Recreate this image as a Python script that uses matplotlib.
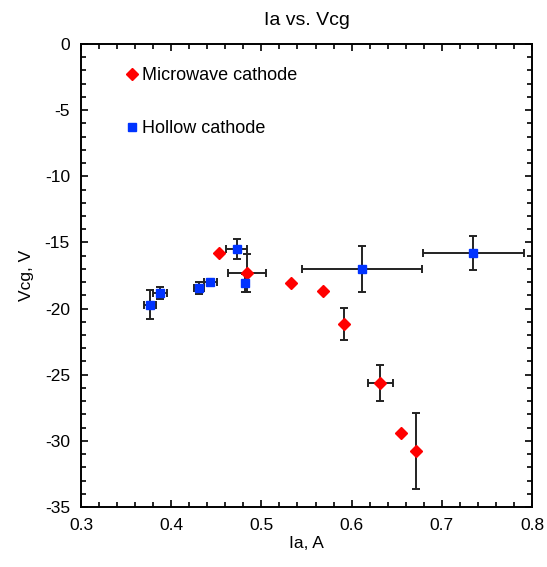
import matplotlib.pyplot as plt
from matplotlib.ticker import MultipleLocator

plt.rcParams['font.family'] = ['Liberation Sans', 'DejaVu Sans']
plt.rcParams['axes.unicode_minus'] = False

# Microwave cathode
mw_ia = [0.453, 0.4837, 0.533, 0.5686, 0.592, 0.632, 0.6544, 0.6717]
mw_vcg = [-15.8, -17.33, -18.04, -18.65, -21.16, -25.6, -29.38, -30.77]
mw_xerr = [0.0, 0.021, 0.0, 0.0, 0.0, 0.0135, 0.0, 0.0]
mw_yerr = [0.0, 1.42, 0.0, 0.0, 1.22, 1.37, 0.0, 2.9]

# Hollow cathode
hc_ia = [0.3768, 0.3876, 0.4308, 0.4434, 0.4726, 0.4818, 0.6115, 0.735]
hc_vcg = [-19.7, -18.85, -18.42, -17.96, -15.5, -18.04, -17.0, -15.8]
hc_xerr = [0.0065, 0.0074, 0.0055, 0.0074, 0.0118, 0.0, 0.0662, 0.056]
hc_yerr = [1.1, 0.45, 0.45, 0.0, 0.74, 0.68, 1.74, 1.26]


def main():
    fig = plt.figure(figsize=(5.47, 5.67), dpi=100)
    ax = fig.add_axes([0.1481, 0.1058, 0.8245, 0.8166])

    ax.errorbar(mw_ia, mw_vcg, xerr=mw_xerr, yerr=mw_yerr, fmt='none',
                ecolor='#222222', elinewidth=1.4, capsize=3, capthick=1.4, zorder=2)
    ax.errorbar(hc_ia, hc_vcg, xerr=hc_xerr, yerr=hc_yerr, fmt='none',
                ecolor='#222222', elinewidth=1.4, capsize=3, capthick=1.4, zorder=2)
    ax.plot(mw_ia, mw_vcg, 'D', color='#ff0000', markersize=6.2, linestyle='none',
            label='Microwave cathode', zorder=3)
    ax.plot(hc_ia, hc_vcg, 's', color='#0033ff', markersize=6.2, linestyle='none',
            label='Hollow cathode', zorder=3)

    ax.set_xlim(0.3, 0.8)
    ax.set_ylim(-35, 0)
    ax.xaxis.set_major_locator(MultipleLocator(0.1))
    ax.xaxis.set_minor_locator(MultipleLocator(0.02))
    ax.yaxis.set_major_locator(MultipleLocator(5))
    ax.yaxis.set_minor_locator(MultipleLocator(1))
    ax.xaxis.set_major_formatter(plt.FuncFormatter(lambda v, p: f"{v:.1f}"))
    ax.tick_params(which='both', direction='in', top=True, right=True, labelsize=12.5)
    ax.tick_params(which='major', length=5, width=1.2, pad=8)
    ax.tick_params(which='minor', length=3.5, width=1.2)
    for s in ax.spines.values():
        s.set_linewidth(1.4)

    ax.set_title("Ia vs. Vcg", fontsize=14, pad=14)
    ax.set_xlabel("Ia, A", fontsize=12.5, labelpad=2)
    ax.set_ylabel("Vcg, V", fontsize=12.5, labelpad=8)

    ax.legend(loc='upper left', bbox_to_anchor=(0.066, 0.985), frameon=False,
              fontsize=13, handlelength=0.6, handletextpad=0.25, labelspacing=2.0,
              markerscale=0.95)

    fig.savefig('out.png', dpi=100)


if __name__ == "__main__":
    main()
